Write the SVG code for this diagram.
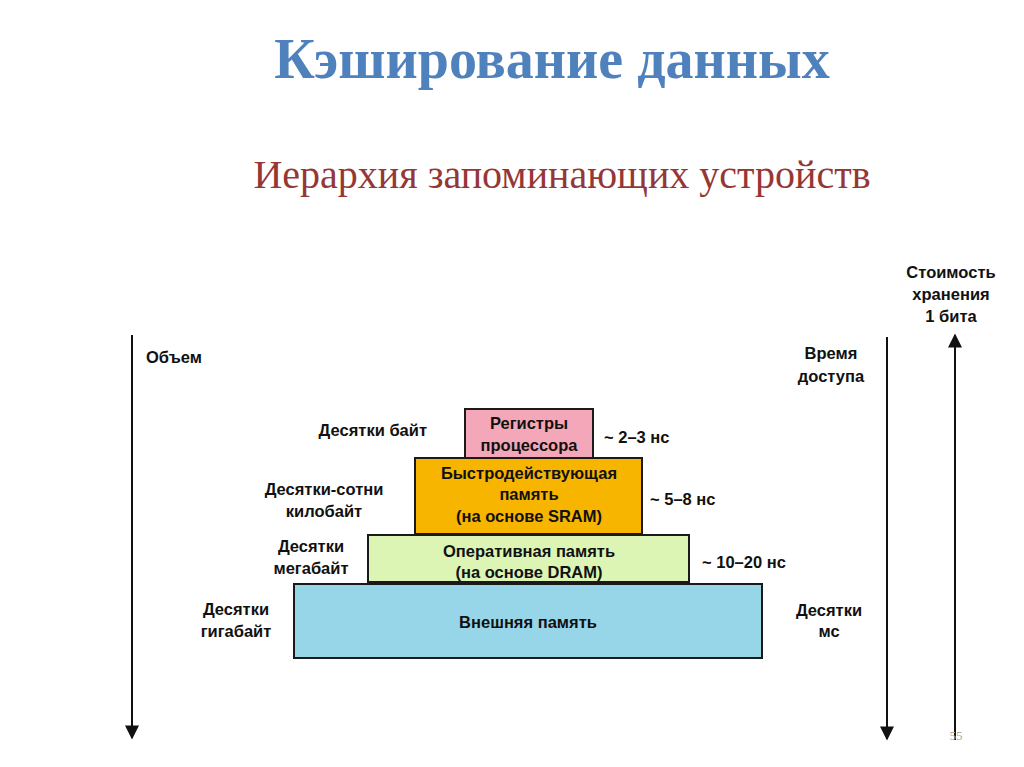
<svg xmlns="http://www.w3.org/2000/svg" width="1024" height="767" viewBox="0 0 1024 767">
<defs>
<style>
.lbl{font-family:"Liberation Sans",Arial,sans-serif;font-weight:bold;font-size:16.5px;fill:#111}
.c{text-anchor:middle}
.e{text-anchor:end}
.box{stroke:#1a1a1a;stroke-width:2}
.ax{stroke:#111;stroke-width:2;fill:none}
</style>
<marker id="ahb" viewBox="0 0 10 10" refX="9" refY="5" markerWidth="16" markerHeight="14" markerUnits="userSpaceOnUse" orient="auto">
<path d="M0,0 L10,5 L0,10 z" fill="#111"/>
</marker>
</defs>
<rect width="1024" height="767" fill="#fff"/>
<text x="552" y="78" text-anchor="middle" font-family="Liberation Serif,'Times New Roman',serif" font-weight="bold" font-size="56" fill="#4f81bd">Кэширование данных</text>
<text x="562" y="188" text-anchor="middle" font-family="Liberation Serif,'Times New Roman',serif" font-size="40" fill="#953735">Иерархия запоминающих устройств</text>

<g id="connectors">
<line class="ax" x1="132" y1="335" x2="132" y2="738" marker-end="url(#ahb)"/>
<line class="ax" x1="887" y1="337" x2="887" y2="739" marker-end="url(#ahb)"/>
<line class="ax" x1="955" y1="740" x2="955" y2="335" marker-end="url(#ahb)"/>
</g>

<g id="registers">
<rect class="box" x="465" y="409" width="128" height="49" fill="#f4a7b9"/>
<text class="lbl c" x="529" y="429">Регистры</text>
<text class="lbl c" x="529" y="451">процессора</text>
</g>
<g id="sram">
<rect class="box" x="415" y="458" width="227" height="76" fill="#f7b500"/>
<text class="lbl c" x="529" y="479">Быстродействующая</text>
<text class="lbl c" x="529" y="500">память</text>
<text class="lbl c" x="529" y="522">(на основе SRAM)</text>
</g>
<g id="dram">
<rect class="box" x="368" y="535" width="321" height="47" fill="#dcf5b4"/>
<text class="lbl c" x="529" y="557">Оперативная память</text>
<text class="lbl c" x="529" y="578">(на основе DRAM)</text>
</g>
<g id="external">
<rect class="box" x="294" y="584" width="468" height="74" fill="#97d5e8"/>
<text class="lbl c" x="528" y="628">Внешняя память</text>
</g>

<g id="labels">
<text class="lbl" x="146" y="363">Объем</text>
<text class="lbl e" x="427" y="436">Десятки байт</text>
<text class="lbl" x="604" y="443">~ 2–3 нс</text>
<text class="lbl c" x="324" y="495">Десятки-сотни</text>
<text class="lbl c" x="324" y="517">килобайт</text>
<text class="lbl" x="650" y="505">~ 5–8 нс</text>
<text class="lbl c" x="311" y="552">Десятки</text>
<text class="lbl c" x="311" y="574">мегабайт</text>
<text class="lbl" x="702" y="568">~ 10–20 нс</text>
<text class="lbl c" x="236" y="615">Десятки</text>
<text class="lbl c" x="236" y="637">гигабайт</text>
<text class="lbl c" x="831" y="359">Время</text>
<text class="lbl c" x="831" y="382">доступа</text>
<text class="lbl c" x="829" y="616">Десятки</text>
<text class="lbl c" x="829" y="637">мс</text>
<text class="lbl c" x="951" y="278">Стоимость</text>
<text class="lbl c" x="951" y="300">хранения</text>
<text class="lbl c" x="951" y="322">1 бита</text>
<text x="956" y="740" text-anchor="middle" font-family="Liberation Serif,serif" font-size="13" fill="#aaa">55</text>
</g>
</svg>
